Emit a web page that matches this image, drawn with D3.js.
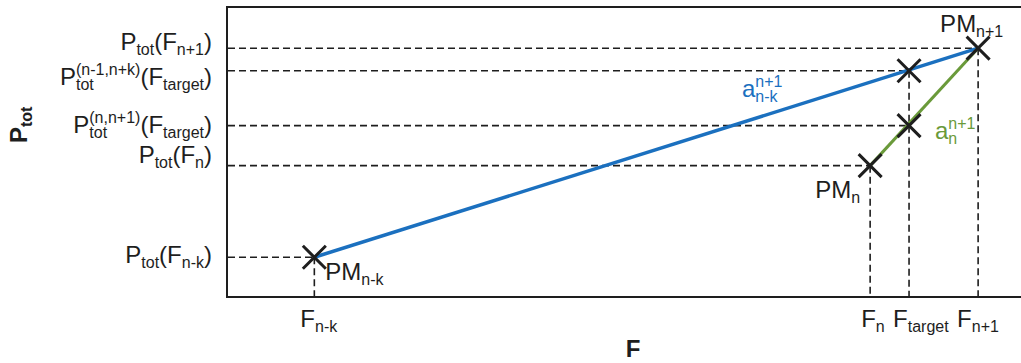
<!DOCTYPE html>
<html>
<head>
<meta charset="utf-8">
<script src="https://cdn.jsdelivr.net/npm/d3@7"></script>
<style>
html,body{margin:0;padding:0;background:#fff;}
svg{display:block;font-family:"Liberation Sans",Arial,sans-serif;}
</style>
</head>
<body>
<svg id="chart" width="1021" height="363"></svg>
<script>
// ---- data (abstract units) ----
const pointNames = ["PM_n-k", "PM_n", "PM_n+1"];
const pointF     = [11.0, 81.0, 94.6];
const pointP     = [13.7, 45.3, 85.8];
const targetF    = 85.9;
const targetP    = [78.0, 59.1];          // on blue line, on green line
const yTickValues = [85.8, 78.0, 59.1, 45.3, 13.7];
const yTickLabels = [
  [["P"],["tot","sub"],["(F"],["n+1","sub"],[")"]],
  [["P"],["tot|(n-1,n+k)","subsup"],["(F"],["target","sub"],[")"]],
  [["P"],["tot|(n,n+1)","subsup"],["(F"],["target","sub"],[")"]],
  [["P"],["tot","sub"],["(F"],["n","sub"],[")"]],
  [["P"],["tot","sub"],["(F"],["n-k","sub"],[")"]]
];
const xTickValues = [11.0, 81.0, 85.9, 94.6];
const xTickLabels = [
  [["F"],["n-k","sub"]],
  [["F"],["n","sub"]],
  [["F"],["target","sub"]],
  [["F"],["n+1","sub"]]
];
const pointLabels = [
  [["PM"],["n-k","sub"]],
  [["PM"],["n","sub"]],
  [["PM"],["n+1","sub"]]
];
const lineLabels = [
  [["a"],["n-k|n+1","subsup"]],
  [["a"],["n|n+1","subsup"]]
];

// ---- layout / style ----
const W = 1021, H = 363;
const mLeft = 227, mTop = 7, mBottom = 297, mRight = 1021;
const blue = "#1b70bf", green = "#6a9a3a", ink = "#1e1e1e";
const FS = 24, SFS = 16;

const svg = d3.select("#chart");
const x = d3.scaleLinear().domain([0, 100]).range([mLeft, mRight]);
const y = d3.scaleLinear().domain([0, 100]).range([mBottom, mTop]);

// rich text helper: draws segments, returns width
function rich(g, parts, opts) {
  const grp = g.append("g");
  let cx = 0;
  const fs = opts.fs || FS, sfs = opts.sfs || SFS;
  const weight = opts.bold ? "bold" : "normal";
  const col = opts.color || ink;
  function add(txt, xx, yy, size) {
    return grp.append("text").attr("x", xx).attr("y", yy)
      .attr("font-size", size).attr("font-weight", weight)
      .attr("fill", col).text(txt);
  }
  parts.forEach(p => {
    const mode = p[1] || "n";
    if (mode === "n") {
      cx += add(p[0], cx, 0, fs).node().getComputedTextLength();
    } else if (mode === "sub" || mode === "sup") {
      cx += add(p[0], cx, mode === "sub" ? 5 : -10, sfs).node().getComputedTextLength();
    } else {
      const [sb, sp] = p[0].split("|");
      const t1 = add(sb, cx, 5, sfs), t2 = add(sp, cx, -10, sfs);
      cx += Math.max(t1.node().getComputedTextLength(), t2.node().getComputedTextLength());
    }
  });
  return {grp, width: cx};
}

// frame (left, top, bottom; open on the right)
svg.append("path")
  .attr("d", `M${mRight},${mTop}H${mLeft}V${mBottom}H${mRight}`)
  .attr("fill", "none").attr("stroke", ink).attr("stroke-width", 2);

// dashed guide lines
const guides = svg.append("g").attr("stroke", ink).attr("stroke-width", 1.6)
  .attr("stroke-dasharray", "7,4").attr("fill", "none");
const allPts = pointF.map((f, i) => [f, pointP[i]])
  .concat(targetP.map(p => [targetF, p]));
allPts.forEach(([f, p]) => {
  guides.append("line").attr("x1", mLeft + 1).attr("x2", x(f))
    .attr("y1", y(p)).attr("y2", y(p));
});
[pointF[0], pointF[1], pointF[2], targetF].forEach((f, i) => {
  const pTop = i < 3 ? pointP[i] : d3.max(targetP);
  guides.append("line").attr("x1", x(f)).attr("x2", x(f))
    .attr("y1", y(pTop)).attr("y2", mBottom - 1);
});

// segments
const line = d3.line().x(d => x(d[0])).y(d => y(d[1]));
svg.append("path").datum([[pointF[0], pointP[0]], [pointF[2], pointP[2]]])
  .attr("d", line).attr("stroke", blue).attr("stroke-width", 3.5).attr("fill", "none");
svg.append("path").datum([[pointF[1], pointP[1]], [pointF[2], pointP[2]]])
  .attr("d", line).attr("stroke", green).attr("stroke-width", 3).attr("fill", "none");

// cross markers
const cr = 11.5;
allPts.forEach(([f, p]) => {
  const cx = x(f), cy = y(p);
  svg.append("path")
    .attr("d", `M${cx - cr},${cy - cr}L${cx + cr},${cy + cr}M${cx - cr},${cy + cr}L${cx + cr},${cy - cr}`)
    .attr("stroke", ink).attr("stroke-width", 3).attr("fill", "none");
});

// y tick labels (right aligned)
const yDy = [2, 14, 7.6, -2.4, 6];
yTickLabels.forEach((parts, i) => {
  const r = rich(svg, parts, {});
  r.grp.attr("transform", `translate(${212 - r.width},${y(yTickValues[i]) + yDy[i]})`);
});

// x tick labels
const xDx = [-14, -9, -16, -21];
xTickLabels.forEach((parts, i) => {
  const r = rich(svg, parts, {});
  r.grp.attr("transform", `translate(${x(xTickValues[i]) + xDx[i]},327)`);
});

// point labels
const pOff = [[11, 23], [-55, 32], [-38, -16]];
pointLabels.forEach((parts, i) => {
  const r = rich(svg, parts, {});
  r.grp.attr("transform", `translate(${x(pointF[i]) + pOff[i][0]},${y(pointP[i]) + pOff[i][1]})`);
});

// slope labels
const blueL = rich(svg, lineLabels[0], {color: blue});
blueL.grp.attr("transform", "translate(742,97)");
const greenL = rich(svg, lineLabels[1], {color: green});
greenL.grp.attr("transform", "translate(935,139)");

// axis titles
const fT = rich(svg, [["F"]], {bold: true, fs: 24});
fT.grp.attr("transform", `translate(${633 - fT.width / 2},357)`);
const pT = rich(svg, [["P"], ["tot", "sub"]], {bold: true, fs: 24, sfs: 16});
pT.grp.attr("transform", "translate(27,143) rotate(-90)");
</script>
</body>
</html>
